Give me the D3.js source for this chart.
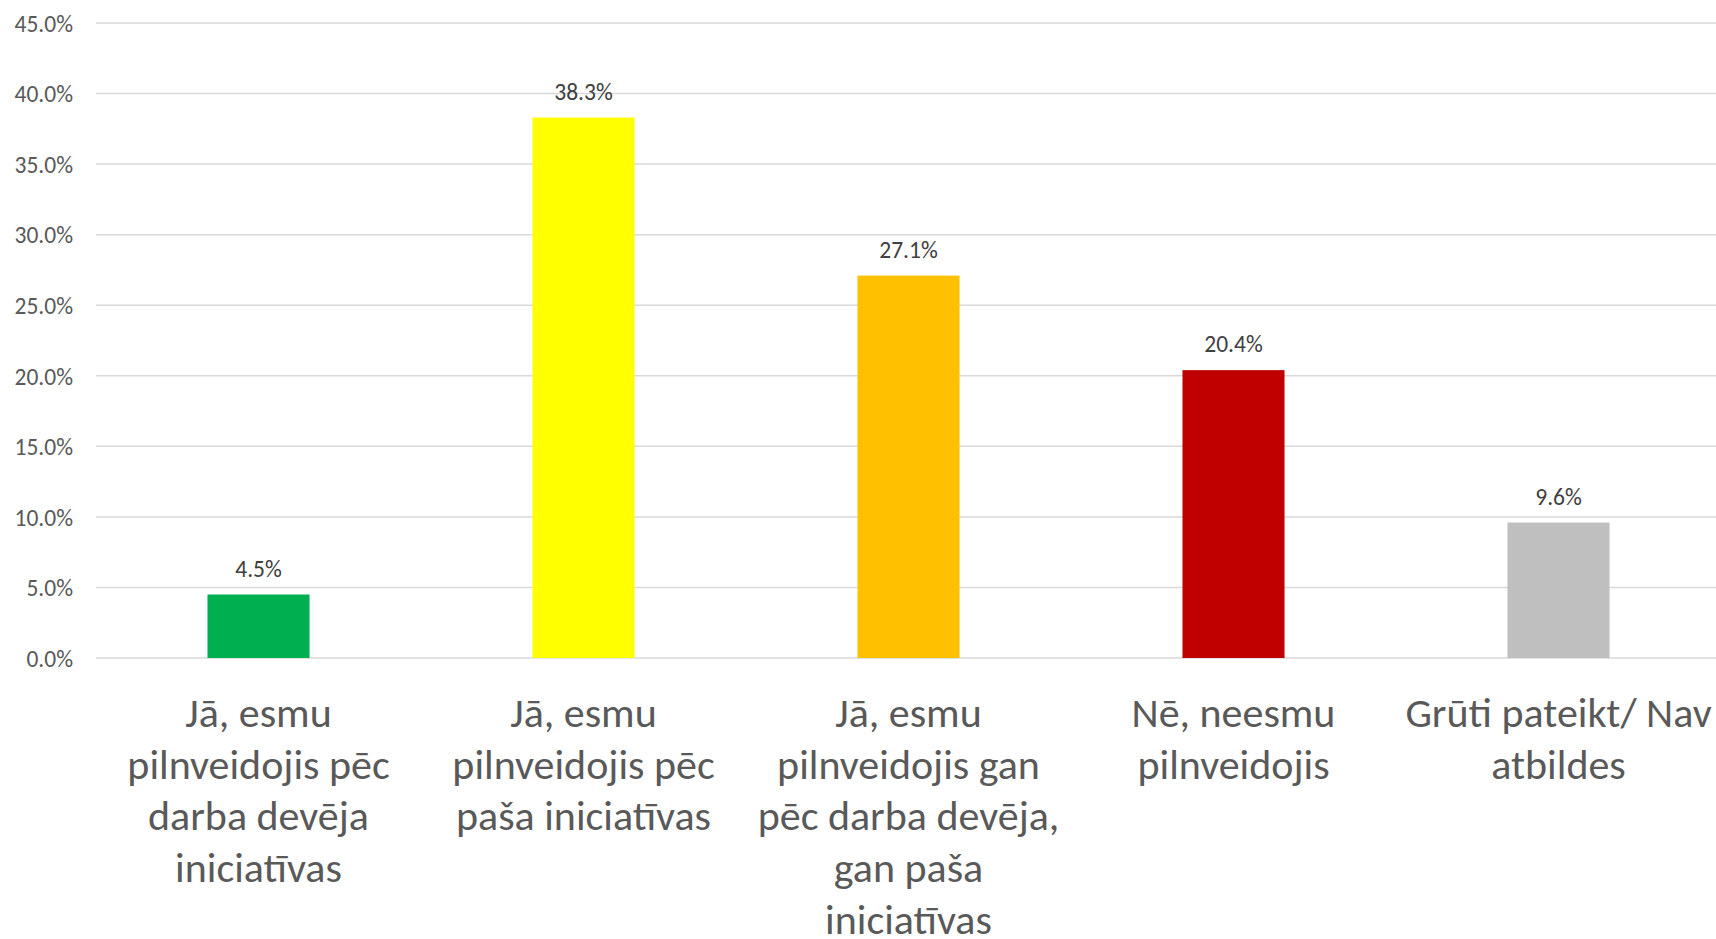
<!DOCTYPE html>
<html>
<head>
<meta charset="utf-8">
<script src="https://cdn.jsdelivr.net/npm/d3@7"></script>
<style>
    body { margin: 0; background: #ffffff; overflow: hidden; }
    svg { display: block; }
</style>
</head>
<body>
<div id="chartView"></div>
<script>
// chart data
var categories = [
    ["Jā, esmu", "pilnveidojis pēc", "darba devēja", "iniciatīvas"],
    ["Jā, esmu", "pilnveidojis pēc", "paša iniciatīvas"],
    ["Jā, esmu", "pilnveidojis gan", "pēc darba devēja,", "gan paša", "iniciatīvas"],
    ["Nē, neesmu", "pilnveidojis"],
    ["Grūti pateikt/ Nav", "atbildes"]
];
var values = [4.5, 38.3, 27.1, 20.4, 9.6];
var barColors = ["#00B050", "#FFFF00", "#FFC000", "#C00000", "#BFBFBF"];
var yTicks = [0, 5, 10, 15, 20, 25, 30, 35, 40, 45];

var width = 1716,
    height = 939;
var fontFamily = "Calibri, Carlito, 'Open Sans', sans-serif";

createChart = function() {
    var svg = d3.select("#chartView")
        .append("svg")
        .attr("width", width)
        .attr("height", height);

    // plot area runs a bit past the right edge, like the original
    var x = d3.scaleBand()
        .domain(d3.range(values.length))
        .range([96, 1721])
        .paddingInner(0.686)
        .paddingOuter(0.343);
    var y = d3.scaleLinear()
        .domain([0, 45])
        .range([658, 23]);

    // gridlines
    svg.append("g")
        .selectAll("line")
        .data(yTicks)
        .enter()
        .append("line")
        .attr("x1", 96)
        .attr("x2", 1721)
        .attr("y1", (d) => y(d))
        .attr("y2", (d) => y(d))
        .attr("stroke", "#d9d9d9")
        .attr("stroke-width", 1.5);

    // y axis labels
    var yAxis = d3.axisLeft(y)
        .tickValues(yTicks)
        .tickSize(0)
        .tickPadding(0)
        .tickFormat((d) => d.toFixed(1) + "%");
    var axisG = svg.append("g")
        .attr("transform", "translate(73,0)")
        .call(yAxis);
    axisG.select(".domain").remove();
    axisG.selectAll("text")
        .attr("fill", "#595959")
        .attr("font-family", fontFamily)
        .attr("font-size", 23.5)
        .attr("dy", "0.35em");

    // bars
    svg.append("g")
        .selectAll("rect")
        .data(values)
        .enter()
        .append("rect")
        .attr("x", (d, i) => x(i))
        .attr("y", (d) => y(d))
        .attr("width", x.bandwidth())
        .attr("height", (d) => y(0) - y(d))
        .attr("fill", (d, i) => barColors[i]);

    // value labels
    svg.append("g")
        .selectAll("text")
        .data(values)
        .enter()
        .append("text")
        .attr("x", (d, i) => x(i) + x.bandwidth() / 2)
        .attr("y", (d) => y(d) - 18)
        .attr("text-anchor", "middle")
        .attr("fill", "#404040")
        .attr("font-family", fontFamily)
        .attr("font-size", 23.5)
        .text((d) => d.toFixed(1) + "%");

    // category labels
    var cat = svg.append("g")
        .selectAll("text")
        .data(categories)
        .enter()
        .append("text")
        .attr("text-anchor", "middle")
        .attr("fill", "#595959")
        .attr("font-family", fontFamily)
        .attr("font-size", 42);
    cat.selectAll("tspan")
        .data((d, i) => d.map((t) => ({ t: t, i: i })))
        .enter()
        .append("tspan")
        .attr("x", (d) => x(d.i) + x.bandwidth() / 2)
        .attr("y", (d, j) => 727 + j * 51.7)
        .text((d) => d.t);
}

createChart();
</script>
</body>
</html>
